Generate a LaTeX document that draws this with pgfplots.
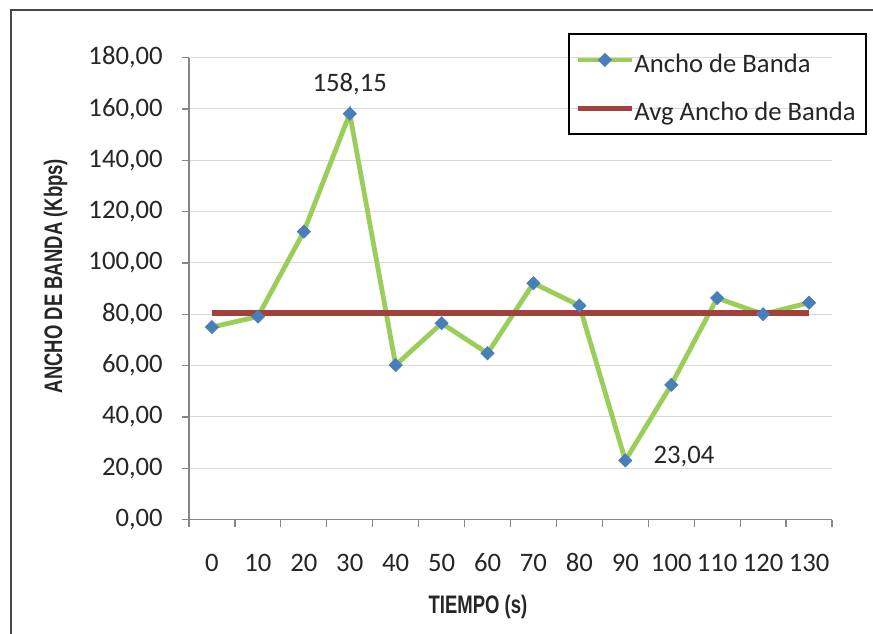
\documentclass[border=0pt]{standalone}
\usepackage{fontspec}
\setmainfont{Carlito}
\newfontfamily\narrowbold[FakeStretch=0.73]{Liberation Sans Bold}
\usepackage{pgfplots}
\pgfplotsset{compat=1.18}
\definecolor{serieA}{RGB}{155,205,90}
\definecolor{markA}{RGB}{74,126,187}
\definecolor{avgcol}{RGB}{160,65,60}
\definecolor{axisgray}{RGB}{134,134,134}
\definecolor{gridgray}{RGB}{217,217,217}
\definecolor{txt}{RGB}{38,38,38}
\definecolor{framecol}{RGB}{70,70,70}
\newcommand{\lstrut}{\rule[-0.52em]{0pt}{1.8975em}}
\begin{document}
\begin{tikzpicture}
\useasboundingbox (-141.75pt,-85.8pt) rectangle (513pt,389.7pt);
\fill[white] (-141.75pt,-85.8pt) rectangle (513pt,389.7pt);
\draw[framecol, line width=1.5pt] (-133.5pt,-90pt) -- (-133.5pt,382.2pt) -- (520pt,382.2pt);
\begin{axis}[
  at={(0pt,0pt)}, anchor=south west,
  scale only axis, width=482.25pt, height=346.5pt,
  xmin=-0.5, xmax=13.5, ymin=0, ymax=180,
  axis lines=left,
  axis line style={-, draw=axisgray, line width=0.9pt},
  xtick={0,...,13},
  xticklabels={0,10,20,30,40,50,60,70,80,90,100,110,120,130},
  minor xtick={-0.5,0.5,...,13.5},
  ytick={0,20,...,180},
  tick align=outside,
  major tick length=5.25pt, minor tick length=5.25pt,
  tick style={draw=axisgray, line width=0.9pt},
  major x tick style={draw=none},
  ymajorgrids,
  major grid style={draw=gridgray, line width=0.75pt},
  /pgf/number format/assume math mode=true,
  y tick label style={/pgf/number format/fixed, /pgf/number format/fixed zerofill,
     /pgf/number format/precision=2, /pgf/number format/use comma, /pgf/number format/1000 sep={}},
  ticklabel style={font=\fontsize{20}{24}\selectfont, text=txt},
  xticklabel style={anchor=base, yshift=-33.75pt},
  yticklabel style={anchor=east, inner sep=0pt, xshift=-14.25pt},
  legend style={at={(1.0529,1.0511)}, anchor=north east, draw=none, fill=none,
    font=\fontsize{20}{24}\selectfont, text=txt, inner xsep=7.5pt, inner ysep=1pt, row sep=7.25pt,
    nodes={inner sep=0pt}},
  legend cell align=left,
  legend image code/.code={\draw[mark repeat=2,mark phase=2,#1] plot coordinates {(0pt,-3.75pt) (20pt,-3.75pt) (40pt,-3.75pt)};},
  clip=false,
]
\addplot[serieA, line width=3.6pt, mark=square*, mark size=3.5pt,
  mark options={rotate=45, fill=markA, draw=markA, line width=0.5pt}]
  coordinates {(0,75.0) (1,79.1) (2,112.2) (3,158.15) (4,60.2) (5,76.5) (6,64.8)
               (7,92.1) (8,83.4) (9,23.04) (10,52.5) (11,86.3) (12,80.0) (13,84.5)};
\addlegendentry{\lstrut Ancho de Banda}
\addplot[avgcol, line width=4.2pt] coordinates {(0,80.56) (13,80.56)};
\addlegendentry{\lstrut Avg Ancho de Banda}
\node[font=\fontsize{20}{24}\selectfont, text=txt] at (axis cs:3,158.15) [yshift=22.5pt] {158,15};
\node[font=\fontsize{20}{24}\selectfont, text=txt] at (axis cs:9,23.04) [xshift=44pt, yshift=3pt] {23,04};
\end{axis}
\draw[black, line width=1pt] (285pt,289.2pt) rectangle (507.75pt,364.2pt);
\node[font=\narrowbold\fontsize{19}{22}\selectfont, text=txt] at (216.75pt,-65.55pt) {TIEMPO (s)};
\node[font=\narrowbold\fontsize{19}{22}\selectfont, text=txt, rotate=90] at (-100.1pt,182.7pt) {ANCHO DE BANDA (Kbps)};
\end{tikzpicture}
\end{document}
